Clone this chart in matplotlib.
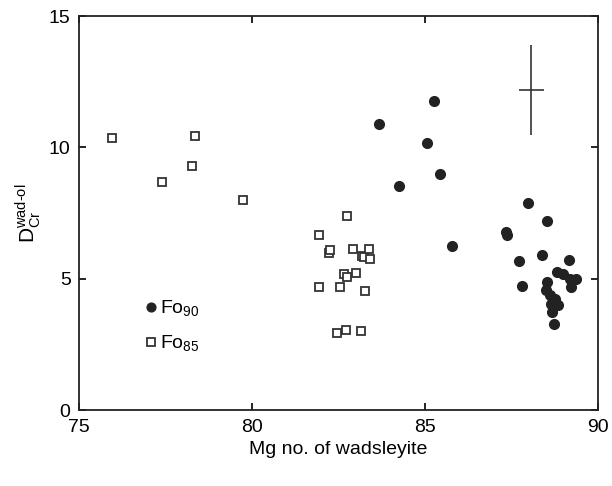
import numpy as np
from matplotlib import pyplot as plt

# Fo85 (open squares)
fo85_x = [75.96, 78.35, 78.27, 77.41, 79.74, 82.75, 81.95, 82.23, 82.27, 82.93,
          83.17, 83.25, 83.39, 83.41, 82.66, 82.74, 83.00, 81.95, 82.54, 83.27,
          82.45, 82.72, 83.14]
fo85_y = [10.37, 10.44, 9.29, 8.67, 7.99, 7.38, 6.65, 5.99, 6.09, 6.12,
          5.86, 5.84, 6.12, 5.74, 5.20, 5.05, 5.23, 4.67, 4.67, 4.54,
          2.92, 3.07, 3.02]

# Fo90 (filled circles)
fo90_x = [85.26, 83.66, 85.07, 85.44, 84.26, 85.78, 87.97, 88.54, 87.33, 87.38,
          88.39, 87.72, 89.17, 87.80, 88.81, 88.98, 89.19, 89.36, 89.23, 88.53,
          88.50, 88.61, 88.76, 88.85, 88.64, 88.68, 88.73]
fo90_y = [11.77, 10.91, 10.15, 8.98, 8.55, 6.24, 7.90, 7.21, 6.79, 6.66,
          5.89, 5.66, 5.72, 4.72, 5.26, 5.18, 5.01, 5.01, 4.67, 4.88,
          4.57, 4.38, 4.25, 4.00, 4.03, 3.72, 3.27]

# typical error
err_x, err_y = 88.08, 12.18
err_dx, err_dy = 0.36, 1.7

plt.rcParams['font.family'] = ['Liberation Sans', 'DejaVu Sans']
plt.rcParams['mathtext.fontset'] = 'custom'
plt.rcParams['mathtext.rm'] = 'Liberation Sans'

fig = plt.figure(figsize=(6.12, 4.86), dpi=100)
ax = fig.add_axes([0.129, 0.156, 0.848, 0.811])

ax.plot(fo90_x, fo90_y, 'o', color='#222222', markersize=7, label='Fo$_{90}$', zorder=3)
ax.plot(fo85_x, fo85_y, 's', markerfacecolor='white', markeredgecolor='#333333',
        markeredgewidth=1.3, markersize=6, label='Fo$_{85}$', zorder=3)
ax.errorbar([err_x], [err_y], xerr=[err_dx], yerr=[err_dy], fmt='none',
            ecolor='#333333', elinewidth=1.2, capsize=0)

ax.set_xlim(75, 90)
ax.set_ylim(0, 15)
ax.set_xticks([75, 80, 85, 90])
ax.set_yticks([0, 5, 10, 15])
ax.tick_params(direction='in', top=True, right=True, length=5, width=1.2,
               labelsize=14, pad=6)
for s in ax.spines.values():
    s.set_linewidth(1.3)
    s.set_color('#222222')

ax.set_xlabel('Mg no. of wadsleyite', fontsize=14)
ax.set_ylabel('D$_{\\mathrm{Cr}}^{\\mathrm{wad\u2010ol}}$', fontsize=15, labelpad=4)

ax.legend(loc='upper left', bbox_to_anchor=(0.127, 0.282), frameon=False, fontsize=14,
          handlelength=0.6, handletextpad=0.2, labelspacing=0.75, borderpad=0,
          borderaxespad=0, markerscale=0.9)

fig.savefig('out.png', dpi=100)
